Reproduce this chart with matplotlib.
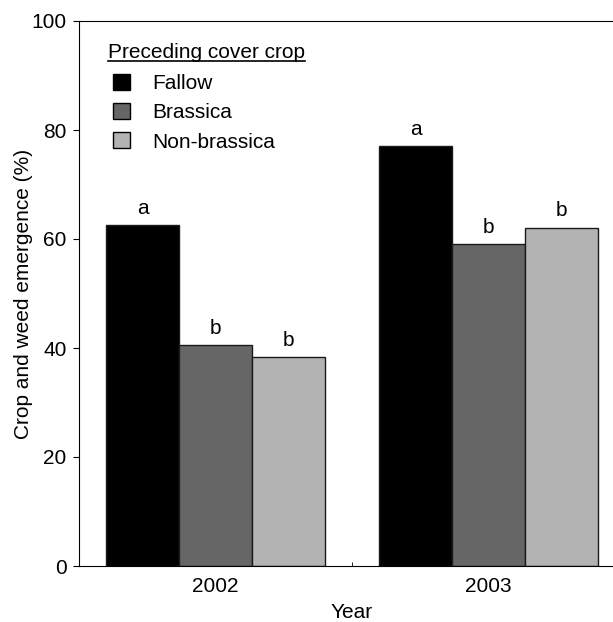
#!/usr/bin/env python3
'''
Crop and weed emergence by preceding cover crop
'''
import numpy as np
import matplotlib
matplotlib.use('Agg')
import matplotlib.pyplot as plt
from matplotlib.lines import Line2D

plt.rcParams['font.family'] = ['Liberation Sans', 'DejaVu Sans']

years = ['2002', '2003']
series = ['Fallow', 'Brassica', 'Non-brassica']
fallow = [62.5, 77.0]
brassica = [40.5, 59.0]
non_brassica = [38.3, 62.1]
letters = [['a', 'a'], ['b', 'b'], ['b', 'b']]
colors = ['#000000', '#666666', '#b3b3b3']

W, H = 613, 622
fig = plt.figure(figsize=(W / 100, H / 100), dpi=100)
ax = fig.add_axes([79 / W, 1 - 566 / H, 546 / W, 545 / H])

x = np.arange(len(years))
width = 0.2674
bars = []
for i, vals in enumerate([fallow, brassica, non_brassica]):
    pos = x + (i - 1) * width
    b = ax.bar(pos, vals, width, color=colors[i], edgecolor='#1a1a1a',
               linewidth=1.0, label=series[i])
    bars.append(b)
    for p, v, t in zip(pos, vals, letters[i]):
        ax.text(p, v + 1.3, t, ha='center', va='bottom', fontsize=15)

ax.set_xlim(-0.5, 1.5)
ax.set_ylim(0, 100)
ax.set_yticks(np.arange(0, 101, 20))
ax.set_xticks(x)
ax.set_xticklabels(years)
ax.set_xticks([0.5], minor=True)
ax.tick_params(axis='x', which='major', length=0, labelsize=15, pad=8)
ax.tick_params(axis='x', which='minor', direction='in', length=3)
ax.tick_params(axis='y', direction='out', length=4, labelsize=15, pad=5)
ax.spines['right'].set_visible(False)
ax.set_xlabel('Year', fontsize=15, labelpad=5)
ax.set_ylabel('Crop and weed emergence (%)', fontsize=15, labelpad=-1)

# legend title drawn separately so it can sit left of the handles
title = fig.text(108 / W, 1 - 52 / H, 'Preceding cover crop', fontsize=15,
                 ha='left', va='center')
leg = ax.legend(handles=bars, loc='upper left',
                bbox_to_anchor=(113 / W, 1 - 74 / H),
                bbox_transform=fig.transFigure, frameon=False, fontsize=15,
                handlelength=0.8, handleheight=0.8, labelspacing=0.48,
                handletextpad=1.1, borderpad=0, borderaxespad=0)
for h in leg.legend_handles:
    h.set_edgecolor('black')
    h.set_linewidth(1.0)

fig.canvas.draw()
bb = title.get_window_extent().transformed(fig.transFigure.inverted())
fig.add_artist(Line2D([bb.x0, bb.x1], [1 - 61 / H, 1 - 61 / H],
                      color='black', linewidth=1.2,
                      transform=fig.transFigure))

fig.savefig('out.png', dpi=100)
